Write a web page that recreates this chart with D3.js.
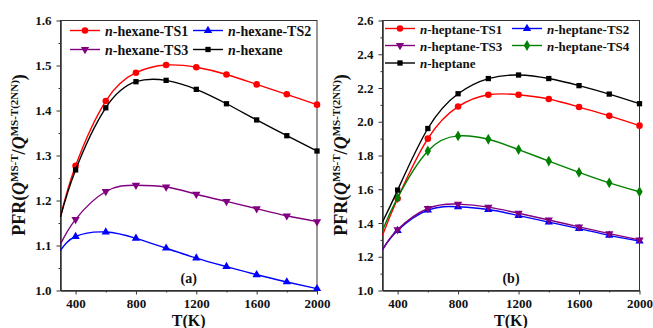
<!DOCTYPE html>
<html>
<head>
<meta charset="utf-8">
<script src="https://cdn.jsdelivr.net/npm/d3@7"></script>
<style>
  body { margin: 0; background: #fff; }
  text { font-family: "Liberation Serif", "Times New Roman", serif; font-weight: bold; }
</style>
</head>
<body>
<div id="chart"></div>
<script>
// temperatures (K); first point at 300 only carries the curve, no marker
var temps = [300, 400, 600, 800, 1000, 1200, 1400, 1600, 1800, 2000];

// n-hexane panel
var hexTS1 = [1.164, 1.277, 1.421, 1.484, 1.501, 1.496, 1.480, 1.458, 1.436, 1.413];
var hexTS2 = [1.089, 1.120, 1.130, 1.116, 1.094, 1.072, 1.053, 1.035, 1.019, 1.004];
var hexTS3 = [1.103, 1.158, 1.220, 1.234, 1.230, 1.214, 1.198, 1.182, 1.166, 1.153];
var hexane = [1.164, 1.268, 1.406, 1.464, 1.467, 1.447, 1.415, 1.379, 1.344, 1.310];

// n-heptane panel
var hepTS1 = [1.327, 1.545, 1.900, 2.090, 2.160, 2.160, 2.135, 2.087, 2.035, 1.977];
var hepTS2 = [1.242, 1.355, 1.476, 1.496, 1.480, 1.444, 1.405, 1.367, 1.327, 1.293];
var hepTS3 = [1.242, 1.361, 1.486, 1.512, 1.494, 1.458, 1.418, 1.377, 1.337, 1.300];
var hepTS4 = [1.357, 1.550, 1.827, 1.916, 1.896, 1.835, 1.767, 1.700, 1.638, 1.585];
var heptane = [1.406, 1.595, 1.960, 2.166, 2.256, 2.277, 2.256, 2.214, 2.164, 2.107];

// ticks
var xTicks = [400, 800, 1200, 1600, 2000];
var xMinor = [600, 1000, 1400, 1800];
var hexYTicks = [1.0, 1.1, 1.2, 1.3, 1.4, 1.5, 1.6];
var hexYMinor = [1.05, 1.15, 1.25, 1.35, 1.45, 1.55];
var hepYTicks = [1.0, 1.2, 1.4, 1.6, 1.8, 2.0, 2.2, 2.4, 2.6];
var hepYMinor = [1.1, 1.3, 1.5, 1.7, 1.9, 2.1, 2.3, 2.5];

var svg = d3.select("#chart")
      .append("svg")
      .attr("width", 653)
      .attr("height", 328);

function drawPanel(p) {
      var x = d3.scaleLinear().domain([300, 2000]).range([p.left, p.right]);
      var y = d3.scaleLinear().domain(p.yDomain).range([290.5, 20.5]);
      var g = svg.append("g");

      // minor ticks first, then majors with labels
      g.append("g")
            .attr("transform", "translate(0,290.5)")
            .call(d3.axisBottom(x).tickValues(xMinor).tickSize(2).tickSizeOuter(0).tickFormat(""));
      g.append("g")
            .attr("transform", "translate(" + p.left + ",0)")
            .call(d3.axisLeft(y).tickValues(p.yMinor).tickSize(2).tickSizeOuter(0).tickFormat(""));
      var xa = g.append("g")
            .attr("transform", "translate(0,290.5)")
            .call(d3.axisBottom(x).tickValues(xTicks).tickSize(4).tickSizeOuter(0).tickPadding(4).tickFormat(d3.format("d")));
      var ya = g.append("g")
            .attr("transform", "translate(" + p.left + ",0)")
            .call(d3.axisLeft(y).tickValues(p.yTicks).tickSize(4).tickSizeOuter(0).tickPadding(5).tickFormat(d3.format(".1f")));
      g.selectAll(".tick text")
            .attr("fill", "#111")
            .style("font-size", "13px");
      g.selectAll(".tick line, .domain").attr("stroke", "#333");

      // frame
      g.append("rect")
            .attr("x", p.left)
            .attr("y", 20.5)
            .attr("width", p.right - p.left)
            .attr("height", 270)
            .attr("fill", "none")
            .attr("stroke", "#333")
            .attr("stroke-width", 1);

      var line = d3.line()
            .x(function (d, i) { return x(temps[i]); })
            .y(function (d) { return y(d); })
            .curve(d3.curveNatural);

      p.series.forEach(function (s) {
            g.append("path")
                  .attr("d", line(s.values))
                  .attr("fill", "none")
                  .attr("stroke", s.color)
                  .attr("stroke-width", 1.4);

            g.selectAll(null)
                  .data(s.values.slice(1))
                  .enter()
                  .append("path")
                  .attr("d", d3.symbol().type(s.sym).size(s.size))
                  .attr("transform", function (d, i) {
                        return "translate(" + x(temps[i + 1]) + "," + y(d) + ")" + (s.flip ? "rotate(180)" : "");
                  })
                  .attr("fill", s.color);

            // legend entry
            g.append("line")
                  .attr("x1", s.lx).attr("x2", s.lx + 30)
                  .attr("y1", s.ly).attr("y2", s.ly)
                  .attr("stroke", s.color)
                  .attr("stroke-width", 1.4);
            g.append("path")
                  .attr("d", d3.symbol().type(s.sym).size(s.size))
                  .attr("transform", "translate(" + (s.lx + 15) + "," + s.ly + ")" + (s.flip ? "rotate(180)" : ""))
                  .attr("fill", s.color);
            var t = g.append("text")
                  .attr("x", s.lx + 35)
                  .attr("y", s.ly + 5)
                  .style("font-size", p.legendSize + "px")
                  .attr("fill", "#111");
            t.append("tspan").style("font-style", "italic").text("n");
            t.append("tspan").text(s.name.slice(1));
      });

      // panel tag
      g.append("text")
            .attr("x", (p.left + p.right) / 2)
            .attr("y", 283)
            .attr("text-anchor", "middle")
            .style("font-size", "14px")
            .attr("fill", "#111")
            .text(p.tag);

      // x title
      g.append("text")
            .attr("x", (p.left + p.right) / 2)
            .attr("y", 326)
            .attr("text-anchor", "middle")
            .style("font-size", "16px")
            .attr("fill", "#111")
            .text("T(K)");

      // y title
      var yt = g.append("text")
            .attr("transform", "translate(" + (p.left - 36) + ",155)rotate(-90)")
            .attr("text-anchor", "middle")
            .style("font-size", "18px")
            .attr("fill", "#111");
      yt.append("tspan").text("PFR(");
      yt.append("tspan").style("font-style", "italic").text("Q");
      yt.append("tspan").attr("dy", -7).style("font-size", "11px").text("MS-T");
      yt.append("tspan").attr("dy", 7).text("/");
      yt.append("tspan").style("font-style", "italic").text("Q");
      yt.append("tspan").attr("dy", -7).style("font-size", "11px").text("MS-T(2NN)");
      yt.append("tspan").attr("dy", 7).text(")");
}

drawPanel({
      left: 60.5, right: 317,
      yDomain: [1.0, 1.6], yTicks: hexYTicks, yMinor: hexYMinor,
      tag: "(a)", legendSize: 14,
      series: [
            { name: "n-hexane-TS1", values: hexTS1, color: "#ff0000", sym: d3.symbolCircle, size: 34, lx: 70, ly: 30.5 },
            { name: "n-hexane-TS2", values: hexTS2, color: "#0000ff", sym: d3.symbolTriangle, size: 30, lx: 193, ly: 30.5 },
            { name: "n-hexane-TS3", values: hexTS3, color: "#800080", sym: d3.symbolTriangle, size: 30, flip: true, lx: 70, ly: 49.5 },
            { name: "n-hexane", values: hexane, color: "#000000", sym: d3.symbolSquare, size: 28, lx: 193, ly: 49.5 }
      ]
});

drawPanel({
      left: 382.5, right: 639.5,
      yDomain: [1.0, 2.6], yTicks: hepYTicks, yMinor: hepYMinor,
      tag: "(b)", legendSize: 13,
      series: [
            { name: "n-heptane-TS1", values: hepTS1, color: "#ff0000", sym: d3.symbolCircle, size: 34, lx: 385, ly: 28.5 },
            { name: "n-heptane-TS2", values: hepTS2, color: "#0000ff", sym: d3.symbolTriangle, size: 30, lx: 512, ly: 28.5 },
            { name: "n-heptane-TS3", values: hepTS3, color: "#800080", sym: d3.symbolTriangle, size: 30, flip: true, lx: 385, ly: 45.5 },
            { name: "n-heptane-TS4", values: hepTS4, color: "#008000", sym: d3.symbolDiamond, size: 34, lx: 512, ly: 45.5 },
            { name: "n-heptane", values: heptane, color: "#000000", sym: d3.symbolSquare, size: 28, lx: 385, ly: 63 }
      ]
});
</script>
</body>
</html>
